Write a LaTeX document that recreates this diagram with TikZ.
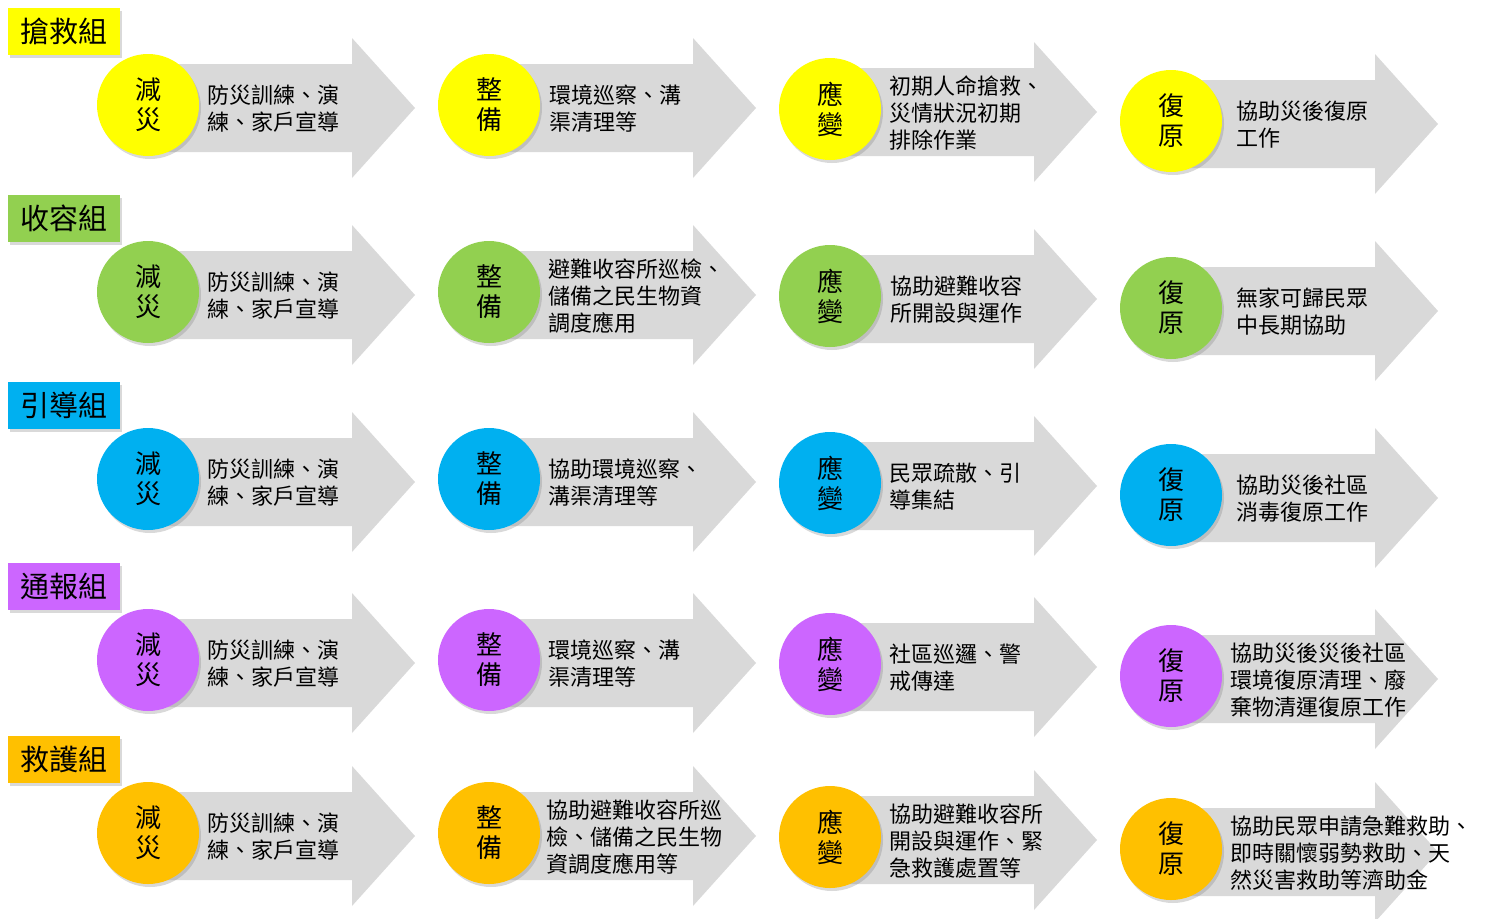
\documentclass[tikz,border=0pt]{standalone}
\usepackage{fontspec}
\setmainfont{Noto Sans CJK TC}
\usetikzlibrary{positioning, shadows}
\definecolor{bandgray}{HTML}{D9D9D9}
\definecolor{grpyellow}{HTML}{FFFF00}
\definecolor{grpgreen}{HTML}{92D050}
\definecolor{grpblue}{HTML}{00B0F0}
\definecolor{grppurple}{HTML}{CC66FF}
\definecolor{grporange}{HTML}{FFC000}
\tikzset{
	band/.pic = {
		\fill[bandgray] (0,-44) -- (204,-44) -- (204,-70) -- (267,0) -- (204,70) -- (204,44) -- (0,44) -- cycle;
	},
	softshadow/.style = {drop shadow={shadow xshift=2pt, shadow yshift=-3pt, opacity=0.3}},
	grpbox/.style = {rectangle, minimum width=112pt, minimum height=47pt, inner sep=0pt, font=\fontsize{29}{32}\selectfont, softshadow},
	stagecircle/.style = {circle, minimum size=102pt, inner sep=0pt, align=center, font=\fontsize{26}{30}\selectfont, softshadow},
	stagetext/.style = {inner sep=0pt, align=left, font=\fontsize{22}{27}\selectfont, yshift=-4pt}
}

\begin{document}
\begin{tikzpicture}[x=1pt, y=-1pt]
	\useasboundingbox (0,0) rectangle (1487,918);
	% groups, bands and stage circles
	\foreach \r/\cy/\gcol/\grp in {1/105/grpyellow/搶救組, 2/292/grpgreen/收容組, 3/479/grpblue/引導組, 4/660/grppurple/通報組, 5/833/grporange/救護組} {
		\node[grpbox, fill=\gcol] (grp\r) at (64,\cy-74) {\grp};
		\foreach \c/\cx/\dy/\stg in {1/148/0/減\\災, 2/489/0/整\\備, 3/830/4/應\\變, 4/1171/16/復\\原} {
			\pic at (\cx,\cy+\dy+3) {band};
			\node[stagecircle, fill=\gcol] (s\r\c) at (\cx,\cy+\dy) {\stg};
		}
	}
	% stage texts
	\foreach \r/\c/\gap/\txt in {
		1/1/8pt/防災訓練、演\\練、家戶宣導,
		1/2/9pt/環境巡察、溝\\渠清理等,
		1/3/8pt/初期人命搶救、\\災情狀況初期\\排除作業,
		1/4/14pt/協助災後復原\\工作,
		2/1/8pt/防災訓練、演\\練、家戶宣導,
		2/2/8pt/避難收容所巡檢、\\儲備之民生物資\\調度應用,
		2/3/9pt/協助避難收容\\所開設與運作,
		2/4/14pt/無家可歸民眾\\中長期協助,
		3/1/8pt/防災訓練、演\\練、家戶宣導,
		3/2/8pt/協助環境巡察、\\溝渠清理等,
		3/3/8pt/民眾疏散、引\\導集結,
		3/4/14pt/協助災後社區\\消毒復原工作,
		4/1/8pt/防災訓練、演\\練、家戶宣導,
		4/2/8pt/環境巡察、溝\\渠清理等,
		4/3/8pt/社區巡邏、警\\戒傳達,
		4/4/8pt/協助災後災後社區\\環境復原清理、廢\\棄物清運復原工作,
		5/1/8pt/防災訓練、演\\練、家戶宣導,
		5/2/6pt/協助避難收容所巡\\檢、儲備之民生物\\資調度應用等,
		5/3/8pt/協助避難收容所\\開設與運作、緊\\急救護處置等,
		5/4/8pt/協助民眾申請急難救助、\\即時關懷弱勢救助、天\\然災害救助等濟助金} {
		\node[stagetext, right=\gap of s\r\c] (t\r\c) {\txt};
	}
\end{tikzpicture}
\end{document}
